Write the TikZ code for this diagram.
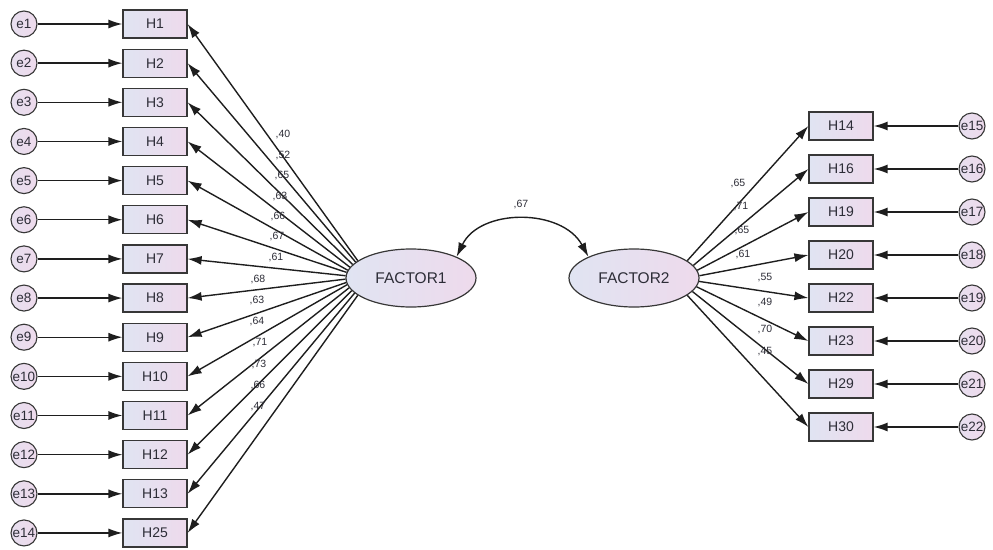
\documentclass[tikz,border=0pt]{standalone}
\usepackage{fontspec}
\setmainfont{Liberation Sans}
\usetikzlibrary{arrows.meta,shapes.geometric}
\definecolor{lineC}{RGB}{30,30,30}
\definecolor{bordC}{RGB}{55,55,55}
\definecolor{fillL}{RGB}{224,228,242}
\definecolor{fillR}{RGB}{238,218,236}
\definecolor{txtC}{RGB}{45,45,55}
\tikzset{
  obs/.style={draw=bordC, line width=1.2pt, left color=fillL, right color=fillR,
    minimum width=64pt, minimum height=28pt, inner sep=0pt,
    font=\fontsize{14}{14}\selectfont, text=txtC},
  err/.style={circle, draw=bordC, line width=1.1pt, left color=fillL!50!fillR, right color=fillR,
    minimum size=26pt, inner sep=0pt, font=\fontsize{13.5}{13.5}\selectfont, text=txtC},
  lat/.style={ellipse, draw=bordC, line width=1.2pt, left color=fillL, right color=fillR,
    minimum width=130pt, minimum height=58pt, inner sep=0pt,
    font=\fontsize{15.5}{15.5}\selectfont, text=txtC},
  link/.style={draw=lineC, line width=1.4pt, -{Latex[length=14pt,width=9pt]}},
  coef/.style={font=\fontsize{10.5}{10.5}\selectfont, text=txtC, inner sep=0pt},
}
\begin{document}
\begin{tikzpicture}[x=1pt,y=-1pt]
\useasboundingbox (0,0) rectangle (993,549);
% latent factors
\node[lat] (F1) at (411,278) {FACTOR1};
\node[lat] (F2) at (634,278) {FACTOR2};
% left indicators
\foreach \n [count=\i] in {1,2,3,4,5,6,7,8,9,10,11,12,13,25}{
  \pgfmathsetmacro\yy{24+39.15*(\i-1)}
  \pgfmathtruncatemacro\aa{162+(\i-1)*36/13}
  \node[obs] (L\i) at (155,\yy) {H\n};
  \node[err] (e\i) at (24,\yy) {e\i};
  \draw[link] (e\i.east) -- (L\i.west);
  \draw[link] (F1.\aa) -- (L\i.east);
}
% right indicators
\foreach \n [count=\i] in {14,16,19,20,22,23,29,30}{
  \pgfmathsetmacro\yy{126+43*(\i-1)}
  \pgfmathtruncatemacro\aa{mod(378-(\i-1)*36/7,360)}
  \pgfmathtruncatemacro\m{14+\i}
  \node[obs] (R\i) at (841,\yy) {H\n};
  \node[err] (e\m) at (972,\yy) {e\m};
  \draw[link] (e\m.west) -- (R\i.east);
  \draw[link] (F2.\aa) -- (R\i.west);
}
% covariance
\draw[draw=lineC, line width=1.4pt, {Latex[length=14pt,width=9pt]}-{Latex[length=14pt,width=9pt]}]
  (F1.25) .. controls (480,208) and (562,208) .. (F2.155);
\node[coef] (c0) at (521,205) {,67};
% left coefficients
\foreach \x/\y/\t [count=\k] in {283/135/{,40},283/156/{,52},282/176/{,65},280/197/{,63},278/217/{,66},277/237/{,67},276/258/{,61},258/280/{,68},257/301/{,63},257/322/{,64},260/343/{,71},259/364/{,73},258/385/{,66},258/407/{,47}}{
  \node[coef] (cl\k) at (\x,\y) {\t};
}
% right coefficients
\foreach \x/\y/\t [count=\k] in {738/184/{,65},741/207/{,71},742/231/{,65},743/255/{,61},765/278/{,55},765/303/{,49},765/330/{,70},765/352/{,45}}{
  \node[coef] (cr\k) at (\x,\y) {\t};
}
\end{tikzpicture}
\end{document}
